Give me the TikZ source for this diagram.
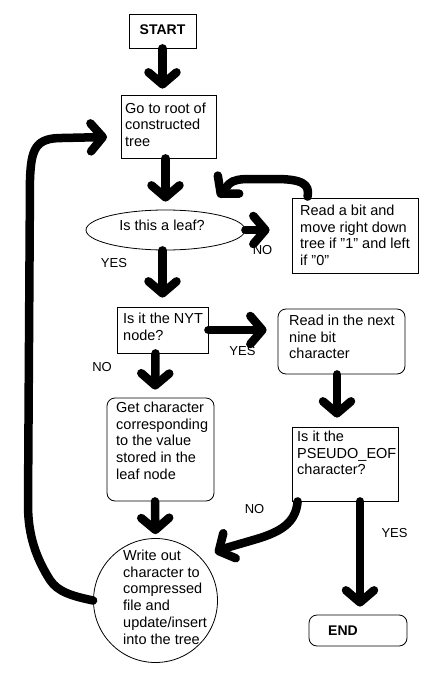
\documentclass[tikz,border=0pt]{standalone}
\usepackage{fontspec}
\setmainfont{Liberation Sans}
\usetikzlibrary{arrows.meta,shapes.geometric,calc}
\newcommand{\dq}{\char34{}}
\begin{document}
\begin{tikzpicture}[x=1pt,y=-1pt,
  box/.style={draw=black,line width=0.8pt,inner sep=0pt},
  rbox/.style={box,rounded corners=8pt},
  txt/.style={inner sep=0pt,anchor=north west,align=left,font=\fontsize{14.5}{16.8}\selectfont},
  lbl/.style={inner sep=0pt,font=\fontsize{13}{15}\selectfont},
  ttl/.style={inner sep=0pt,font=\bfseries\fontsize{14}{16}\selectfont},
  arr/.style={line width=8.5pt,line cap=round,line join=round,-{Straight Barb[length=12pt,width=28pt,round]}},
]
\fill[white] (0,0) rectangle (444,687);
\useasboundingbox (0,0) rectangle (444,687);

% boxes
\node[box,minimum width=67pt,minimum height=34pt] (start) at (162.5,31) {};
\node[ttl] (starttxt) at (162.5,30) {START};

\node[box,minimum width=95pt,minimum height=63pt] (go) at (168.5,126.5) {};
\node[txt] (gotxt) at (125,102.5) {Go to root of\\constructed\\tree};

\node[draw=black,line width=0.8pt,ellipse,minimum width=159pt,minimum height=40pt,inner sep=0pt] (leaf) at (165.5,230) {};
\node[inner sep=0pt,font=\fontsize{14.5}{16.8}\selectfont] (leaftxt) at (162,225) {Is this a leaf?};

\node[box,minimum width=126pt,minimum height=75pt] (read) at (355,235.5) {};
\node[txt] (readtxt) at (300,204.5) {Read a bit and\\move right down\\tree if \dq1\dq\ and left\\if \dq0\dq};

\node[box,minimum width=91pt,minimum height=46pt] (nyt) at (162.5,330) {};
\node[txt] (nyttxt) at (123,312.5) {Is it the NYT\\node?};

\node[rbox,minimum width=127pt,minimum height=65pt] (nine) at (341.5,341.5) {};
\node[txt] (ninetxt) at (289,314.5) {Read in the next\\nine bit\\character};

\node[rbox,minimum width=107pt,minimum height=103pt] (get) at (160.5,449.5) {};
\node[txt] (gettxt) at (116,401.5) {Get character\\corresponding\\to the value\\stored in the\\leaf node};

\node[box,minimum width=106pt,minimum height=74pt] (pseudo) at (345,464) {};
\node[txt] (pseudotxt) at (297,430.5) {Is it the\\PSEUDO\_EOF\\character?};

\node[draw=black,line width=0.8pt,circle,minimum size=124pt,inner sep=0pt] (write) at (155.5,600.5) {};
\node[txt] (writetxt) at (123,549.5) {Write out\\character to\\compressed\\file and\\update/insert\\into the tree};

\node[rbox,minimum width=98pt,minimum height=31pt] (end) at (358,630.5) {};
\node[ttl,anchor=west] (endtxt) at (328,631) {END};

% labels
\node[lbl] (no1) at (262.5,250) {NO};
\node[lbl] (yes1) at (114,263) {YES};
\node[lbl] (yes2) at (242.5,351) {YES};
\node[lbl] (no2) at (102,367) {NO};
\node[lbl] (no3) at (254.5,509) {NO};
\node[lbl] (yes3) at (394.5,533) {YES};

\coordinate (loopend) at (107,137);
\coordinate (backtip) at (218,197);

% connectors
\draw[arr,shorten >=6pt] (start.south) -- (start.south |- go.north);
\draw[arr,shorten >=8pt] (go.south -| leaf.north) -- (leaf.north);
\draw[arr,shorten >=22pt] (leaf.east) -- (leaf.east -| read.west);
\draw[arr] ($(read.north west)+(16,-1)$) .. controls (310,184) and (302,179) .. (275,179) -- (250,179) .. controls (240,179) and (233,180) .. (229,184) -- (backtip);
\draw[arr,shorten >=9pt] (leaf.south -| nyt.north) -- (nyt.north);
\draw[arr,shorten >=11pt] (nyt.east) -- (nyt.east -| nine.west);
\draw[arr,shorten >=8pt] ($(nyt.south)+(-7,0)$) -- ($(get.north)+(-5.5,0)$);
\draw[arr,shorten >=9pt] ($(nine.south)+(-4.5,0)$) -- ($(pseudo.north)+(-8,0)$);
\draw[arr,shorten >=4pt] ($(get.south)+(-5.5,0)$) -- (write.north);
\draw[arr] ($(pseudo.south west)+(6,0)$) .. controls (296,520) and (285,530) .. (260,538) .. controls (240,544) and (225,548) .. (215,553);
\draw[arr,shorten >=8pt] ($(pseudo.south)+(15,0)$) -- ($(end.north)+(2,0)$);
\draw[arr] (write.west) .. controls (72,596) and (58,592) .. (50,580) .. controls (36,558) and (28,535) .. (28,505) -- (30,180) .. controls (31,148) and (36,138) .. (62,138) -- (loopend);
\end{tikzpicture}
\end{document}
